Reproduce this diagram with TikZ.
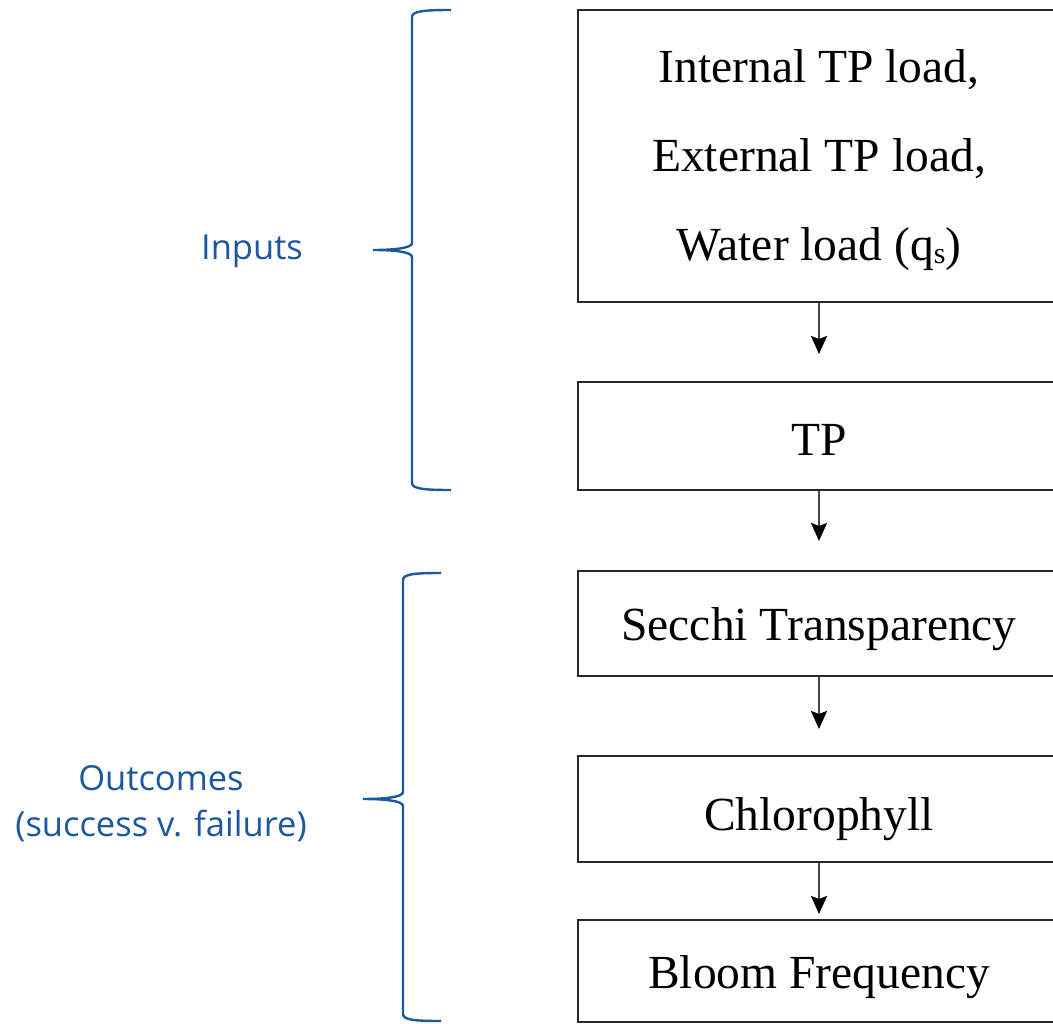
\documentclass[tikz,border=0pt]{standalone}
\usepackage{fontspec}
\usetikzlibrary{arrows.meta}
\newfontfamily\boxfont{Liberation Serif}
\newfontfamily\lblfont{Open Sans}
\definecolor{lblblue}{RGB}{28,88,160}
\definecolor{boxline}{RGB}{40,40,40}
\definecolor{arrline}{RGB}{70,70,70}
\begin{document}
\begin{tikzpicture}[x=1pt,y=-1pt,
  box/.style={draw=boxline,line width=2pt,minimum width=482pt,inner sep=0pt},
  btext/.style={anchor=base,inner sep=0pt,font=\fontsize{47.5}{60}\boxfont,text=black},
  arr/.style={draw=arrline,line width=2.2pt,-{Stealth[length=18pt,width=16pt,inset=3pt,color=black]}},
  lbl/.style={anchor=base,inner sep=0pt,font=\fontsize{34.5}{46}\lblfont,text=lblblue},
  brace/.style={draw=lblblue,line width=2.4pt}]
\clip (0,0) rectangle (1053,1024);
\fill[white] (0,0) rectangle (1053,1024);
\node[box,minimum height=292pt] (b1) at (819,156) {};
\node[box,minimum height=108pt] (b2) at (819,436) {};
\node[box,minimum height=105pt] (b3) at (819,623.5) {};
\node[box,minimum height=106pt] (b4) at (819,809) {};
\node[box,minimum height=102pt] (b5) at (819,971) {};
\node[btext] (t1a) at (819,83) {Internal TP load,};
\node[btext] (t1b) at (819,172) {External TP load,};
\node[btext] (t1c) at (819,261) {Water load (q\raisebox{-0.12ex}{\fontsize{30}{30}\boxfont s})};
\node[btext] (t2) at (819,455) {TP};
\node[btext] (t3) at (819,640) {Secchi Transparency};
\node[btext] (t4) at (819,830) {Chlorophyll};
\node[btext] (t5) at (819,988) {Bloom Frequency};
\draw[arr,shorten >=27pt] (b1.south) -- (b2.north);
\draw[arr,shorten >=29pt] (b2.south) -- (b3.north);
\draw[arr,shorten >=26pt] (b3.south) -- (b4.north);
\draw[arr,shorten >=5pt] (b4.south) -- (b5.north);
\node[lbl] (inputs) at (252,260) {Inputs};
\node[lbl] (outcomes) at (161,790) {Outcomes};
\node[lbl] (success) at (161,836) {(success v. failure)};
\draw[brace] (451,10) .. controls (425,10) and (412,11) .. (412,17) -- (412,243)
  .. controls (412,248) and (395,250) .. (373,250)
  .. controls (395,250) and (412,252) .. (412,257) -- (412,483)
  .. controls (412,489) and (425,490) .. (451,490);
\draw[brace] (441,573) .. controls (415,573) and (403,574) .. (403,580) -- (403,792)
  .. controls (403,797) and (386,799) .. (363,799)
  .. controls (386,799) and (403,801) .. (403,806) -- (403,1014)
  .. controls (403,1020) and (415,1021) .. (441,1021);
\end{tikzpicture}
\end{document}
